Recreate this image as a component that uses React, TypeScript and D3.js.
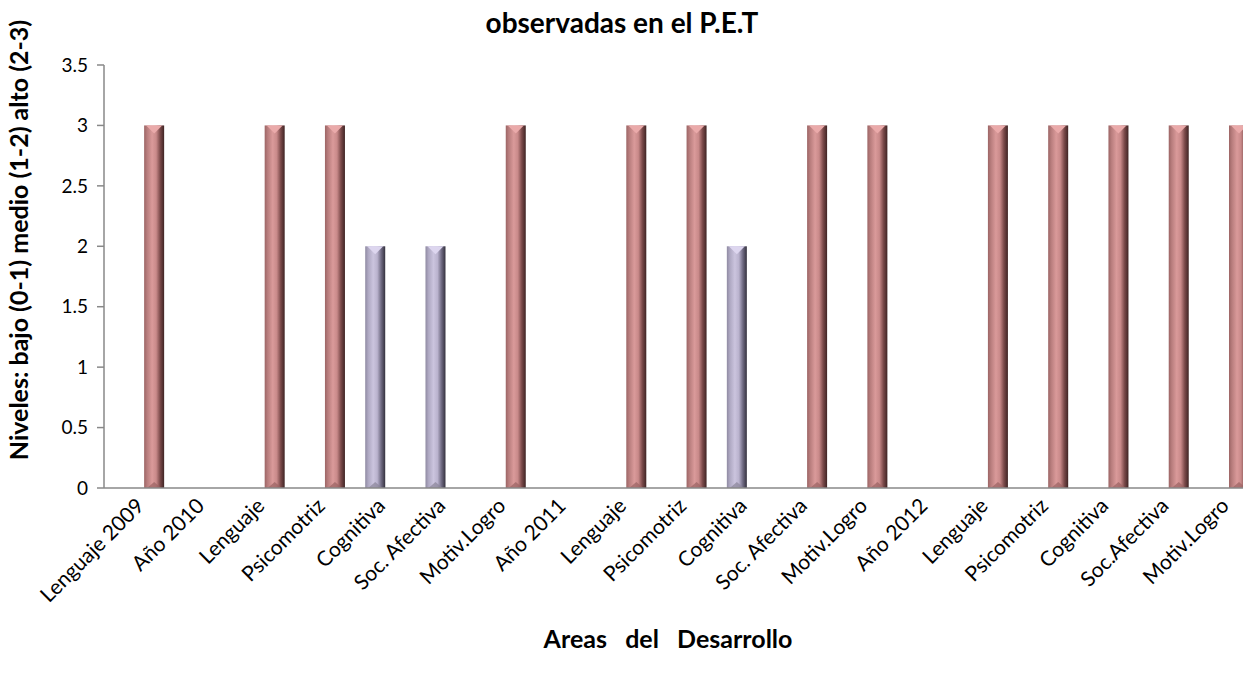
import React, { useEffect } from 'react';
import * as d3 from 'd3';

const categories = [
  'Lenguaje 2009', 'Año 2010', 'Lenguaje', 'Psicomotriz', 'Cognitiva', 'Soc. Afectiva', 'Motiv.Logro',
  'Año 2011', 'Lenguaje', 'Psicomotriz', 'Cognitiva', 'Soc. Afectiva', 'Motiv.Logro',
  'Año 2012', 'Lenguaje', 'Psicomotriz', 'Cognitiva', 'Soc.Afectiva', 'Motiv.Logro',
];
const seriesNames = ['bajo', 'medio', 'alto'];
const bajo: (number | null)[] = [null, null, null, null, null, null, null, null, null, null, null, null, null, null, null, null, null, null, null];
const medio: (number | null)[] = [null, null, null, null, 2, 2, null, null, null, null, 2, null, null, null, null, null, null, null, null];
const alto: (number | null)[] = [3, null, 3, 3, null, null, 3, null, 3, 3, null, 3, 3, null, 3, 3, 3, 3, 3];
const yTicks = [0, 0.5, 1, 1.5, 2, 2.5, 3, 3.5];

const W = 1243;
const H = 677;
const left = 104;
const catW = 60.27;
const font = 'Lato, "Open Sans", sans-serif';

const styles: Record<string, { stops: [number, string][]; cap: string; base: string }> = {
  medio: {
    stops: [[0, '#8f8aa2'], [0.15, '#aea8c2'], [0.4, '#cbc4de'], [0.6, '#bab3ce'], [0.8, '#6f6a82'], [1, '#34313e']],
    cap: '#ddd6ef',
    base: '#8a8499',
  },
  alto: {
    stops: [[0, '#9c6565'], [0.15, '#b87d7d'], [0.4, '#da9a9a'], [0.6, '#c98a8a'], [0.8, '#7b4a4a'], [1, '#3f2424']],
    cap: '#eaaaaa',
    base: '#9a6262',
  },
};

export default function App() {
  useEffect(() => {
    document.body.style.margin = '0';
  }, []);

  const x = d3.scaleBand<number>()
    .domain(categories.map((_, i) => i))
    .range([left, left + categories.length * catW])
    .padding(0);

  // three series side by side inside each category, 20px each
  const xs = d3.scaleBand<string>()
    .domain(seriesNames)
    .range([(x.bandwidth() - 60) / 2, (x.bandwidth() + 60) / 2])
    .padding(0);

  const y = d3.scaleLinear().domain([0, 3.5]).range([488, 65]);

  const values: Record<string, (number | null)[]> = { bajo, medio, alto };
  const bw = xs.bandwidth();

  return (
    <svg width={W} height={H} style={{ display: 'block', background: '#fff' }}>
      <defs>
        {Object.entries(styles).map(([k, s]) => (
          <linearGradient key={k} id={`g-${k}`} x1="0" x2="1" y1="0" y2="0">
            {s.stops.map(([o, c], i) => <stop key={i} offset={o} stopColor={c} />)}
          </linearGradient>
        ))}
      </defs>

      <text x={622} y={33} textAnchor="middle" fontFamily={font} fontWeight="bold" fontSize={28}>
        observadas en el P.E.T
      </text>

      {/* y axis */}
      <line x1={left} x2={left} y1={y(3.5)} y2={y(0)} stroke="#888" strokeWidth={1.5} />
      {yTicks.map(t => (
        <g key={t}>
          <line x1={left - 7} x2={left} y1={y(t)} y2={y(t)} stroke="#888" strokeWidth={1.5} />
          <text x={left - 16} y={y(t)} dy="0.35em" textAnchor="end" fontFamily={font} fontSize={19}>{t}</text>
        </g>
      ))}
      <text transform={`translate(28,240) rotate(-90)`} textAnchor="middle" fontFamily={font} fontWeight="bold" fontSize={25}>
        Niveles: bajo (0-1) medio (1-2) alto (2-3)
      </text>

      {/* bars */}
      {seriesNames.filter(s => styles[s]).map(s =>
        values[s].map((v, i) => {
          if (v == null) return null;
          const x0 = (x(i) as number) + (xs(s) as number);
          const y0 = y(v);
          const y1 = y(0);
          const st = styles[s];
          return (
            <g key={`${s}-${i}`}>
              <rect x={x0} y={y0} width={bw} height={y1 - y0} fill={`url(#g-${s})`} />
              <polygon points={`${x0 + 2},${y0} ${x0 + bw - 2},${y0} ${x0 + bw / 2},${y0 + 8}`} fill={st.cap} />
              <polygon points={`${x0 + 3},${y1} ${x0 + bw - 3},${y1} ${x0 + bw / 2},${y1 - 6}`} fill={st.base} opacity={0.7} />
            </g>
          );
        })
      )}

      {/* x axis */}
      <line x1={left} x2={W} y1={y(0)} y2={y(0)} stroke="#888" strokeWidth={1.5} />
      {categories.map((c, i) => {
        const cx = (x(i) as number) + x.bandwidth() / 2 + 6;
        return (
          <text key={i} transform={`translate(${cx},${502}) rotate(-45)`} textAnchor="end" dy="0.35em"
            fontFamily={font} fontSize={21}>{c}</text>
        );
      })}

      <text x={668} y={648} textAnchor="middle" fontFamily={font} fontWeight="bold" fontSize={25} style={{ whiteSpace: 'pre' }}>
        {'Areas   del   Desarrollo'}
      </text>
    </svg>
  );
}
